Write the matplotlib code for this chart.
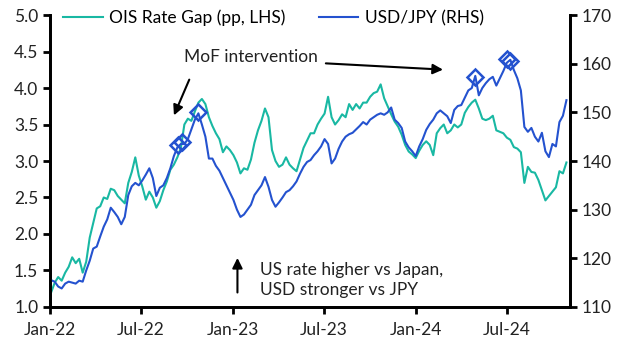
import matplotlib
matplotlib.use('Agg')
import matplotlib.pyplot as plt
import matplotlib.dates as mdates
import pandas as pd

plt.rcParams['font.family'] = ['Lato', 'DejaVu Sans']

# weekly observations, first week of Jan-22 to end of Oct-24
weeks = pd.date_range('2022-01-03', periods=148, freq='W-MON')

ois_gap = [1.20, 1.33, 1.41, 1.36, 1.47, 1.55, 1.68, 1.60, 1.66, 1.47,
           1.62, 1.95, 2.15, 2.35, 2.38, 2.50, 2.48, 2.62, 2.60, 2.52,
           2.47, 2.42, 2.70, 2.85, 3.05, 2.80, 2.65, 2.47, 2.58, 2.50,
           2.36, 2.45, 2.60, 2.72, 2.88, 2.95, 3.05, 3.18, 3.50, 3.58,
           3.55, 3.68, 3.80, 3.85, 3.78, 3.60, 3.48, 3.38, 3.30, 3.12,
           3.20, 3.15, 3.08, 2.98, 2.83, 2.90, 2.88, 3.02, 3.25, 3.42,
           3.55, 3.72, 3.60, 3.15, 3.00, 2.92, 2.95, 3.05, 2.95, 2.90,
           2.86, 3.02, 3.18, 3.28, 3.38, 3.38, 3.50, 3.58, 3.65, 3.88,
           3.60, 3.50, 3.56, 3.64, 3.60, 3.78, 3.70, 3.78, 3.72, 3.80,
           3.80, 3.88, 3.93, 3.95, 4.05, 3.86, 3.75, 3.64, 3.54, 3.47,
           3.36, 3.22, 3.13, 3.09, 3.04, 3.14, 3.22, 3.27, 3.22, 3.08,
           3.38, 3.45, 3.50, 3.38, 3.42, 3.50, 3.46, 3.50, 3.66, 3.74,
           3.80, 3.84, 3.72, 3.58, 3.56, 3.58, 3.62, 3.42, 3.40, 3.38,
           3.32, 3.29, 3.19, 3.17, 3.12, 2.70, 2.92, 2.85, 2.84, 2.74,
           2.60, 2.46, 2.52, 2.58, 2.64, 2.86, 2.83, 2.98]

usdjpy = [115.5, 115.2, 114.2, 113.8, 114.8, 115.2, 115.0, 114.8, 115.4, 115.2,
          117.5, 119.5, 122.0, 122.4, 124.5, 126.5, 128.0, 130.4, 129.5, 128.5,
          127.0, 128.5, 133.0, 134.8, 135.5, 135.0, 136.0, 137.2, 138.5, 136.5,
          132.8, 134.5, 135.0, 136.5, 138.5, 141.0, 142.8, 143.5, 143.5, 144.5,
          146.5, 148.5, 149.8, 147.5, 145.0, 140.5, 140.5, 139.0, 138.0, 136.5,
          135.0, 133.5, 132.0, 130.0, 128.5, 129.0, 130.0, 131.0, 133.0, 134.0,
          135.0, 136.7, 134.7, 132.0, 130.6, 131.5, 132.5, 133.6, 134.0, 134.8,
          135.8, 137.4, 138.8, 139.8, 140.2, 141.2, 142.0, 143.0, 144.5, 143.5,
          139.5, 140.5, 142.5, 144.0, 145.0, 145.5, 145.8, 146.5, 147.2, 148.0,
          147.5, 148.5, 149.0, 149.5, 149.8, 149.5, 150.0, 151.0, 148.5, 147.8,
          146.8, 144.0, 142.8, 142.0, 141.0, 143.0, 144.5, 146.4, 147.6, 148.5,
          149.8, 150.4, 149.8, 149.2, 147.8, 150.5, 151.3, 151.5, 153.0, 154.5,
          155.0, 157.5, 153.5, 155.0, 156.0, 156.8, 157.3, 155.5, 157.0, 158.5,
          160.2, 160.8, 158.7, 157.0, 154.5, 147.0, 146.0, 146.8, 145.0, 144.0,
          145.8, 142.0, 140.8, 143.5, 143.0, 148.0, 149.3, 152.5]

# MoF intervention days (marked on USD/JPY)
mof_dates = pd.to_datetime(['2022-09-14', '2022-09-22', '2022-10-24',
                            '2024-04-29', '2024-07-02', '2024-07-08'])
mof_usdjpy = [143.3, 144.0, 150.0, 157.3, 161.0, 160.5]

teal = '#19B8A3'
blue = '#2452CF'
fs = 12.5

fig, ax = plt.subplots(figsize=(6.27, 3.5), dpi=100)
fig.subplots_adjust(left=0.08, right=0.909, top=0.957, bottom=0.123)
ax2 = ax.twinx()

l1, = ax.plot(weeks, ois_gap, color=teal, lw=1.5, label='OIS Rate Gap (pp, LHS)')
l2, = ax2.plot(weeks, usdjpy, color=blue, lw=1.5, label='USD/JPY (RHS)')
ax2.plot(mof_dates, mof_usdjpy, 'D', ms=8.5, mfc='none', mec=blue, mew=1.8)

ax.set_ylim(1.0, 5.0)
ax.set_yticks([1.0, 1.5, 2.0, 2.5, 3.0, 3.5, 4.0, 4.5, 5.0])
ax.yaxis.set_major_formatter(matplotlib.ticker.FormatStrFormatter('%.1f'))
ax2.set_ylim(110, 170)
ax2.set_yticks(range(110, 171, 10))
ax.set_xlim(pd.Timestamp('2022-01-01'), pd.Timestamp('2024-11-04'))
ax.xaxis.set_major_locator(mdates.MonthLocator(bymonth=[1, 7]))
ax.xaxis.set_major_formatter(mdates.DateFormatter('%b-%y'))

for a in (ax, ax2):
    a.spines['top'].set_visible(False)
    for s in ('left', 'right', 'bottom'):
        a.spines[s].set_linewidth(2)
        a.spines[s].set_color('black')
    a.tick_params(axis='both', direction='out', length=5, width=2,
                  labelsize=fs, labelcolor='#222222')
ax.tick_params(axis='x', pad=6)

ax.annotate('', xy=(pd.Timestamp('2022-09-03'), 3.59), xytext=(pd.Timestamp('2022-10-08'), 4.15),
            arrowprops=dict(arrowstyle='-|>', color='black', lw=1.5, mutation_scale=15))
ax.annotate('', xy=(pd.Timestamp('2024-03-01'), 4.25), xytext=(pd.Timestamp('2023-06-30'), 4.34),
            arrowprops=dict(arrowstyle='-|>', color='black', lw=1.5, mutation_scale=15))
ax.text(pd.Timestamp('2023-02-06'), 4.42, 'MoF intervention', fontsize=fs,
        ha='center', va='center', color='#222222')
ax.annotate('', xy=(pd.Timestamp('2023-01-10'), 1.71), xytext=(pd.Timestamp('2023-01-10'), 1.16),
            arrowprops=dict(arrowstyle='-|>', color='black', lw=1.5, mutation_scale=15))
ax.text(pd.Timestamp('2023-02-25'), 1.37, 'US rate higher vs Japan,\nUSD stronger vs JPY',
        fontsize=fs, ha='left', va='center', color='#222222', linespacing=1.3)

ax.legend([l1, l2], [l1.get_label(), l2.get_label()], ncol=2, frameon=False,
          fontsize=fs, loc='center left', bbox_to_anchor=(0.025, 0.99),
          handlelength=2.3, columnspacing=1.9, borderaxespad=0, borderpad=0,
          handletextpad=0.35)

fig.savefig('out.png', dpi=100)
